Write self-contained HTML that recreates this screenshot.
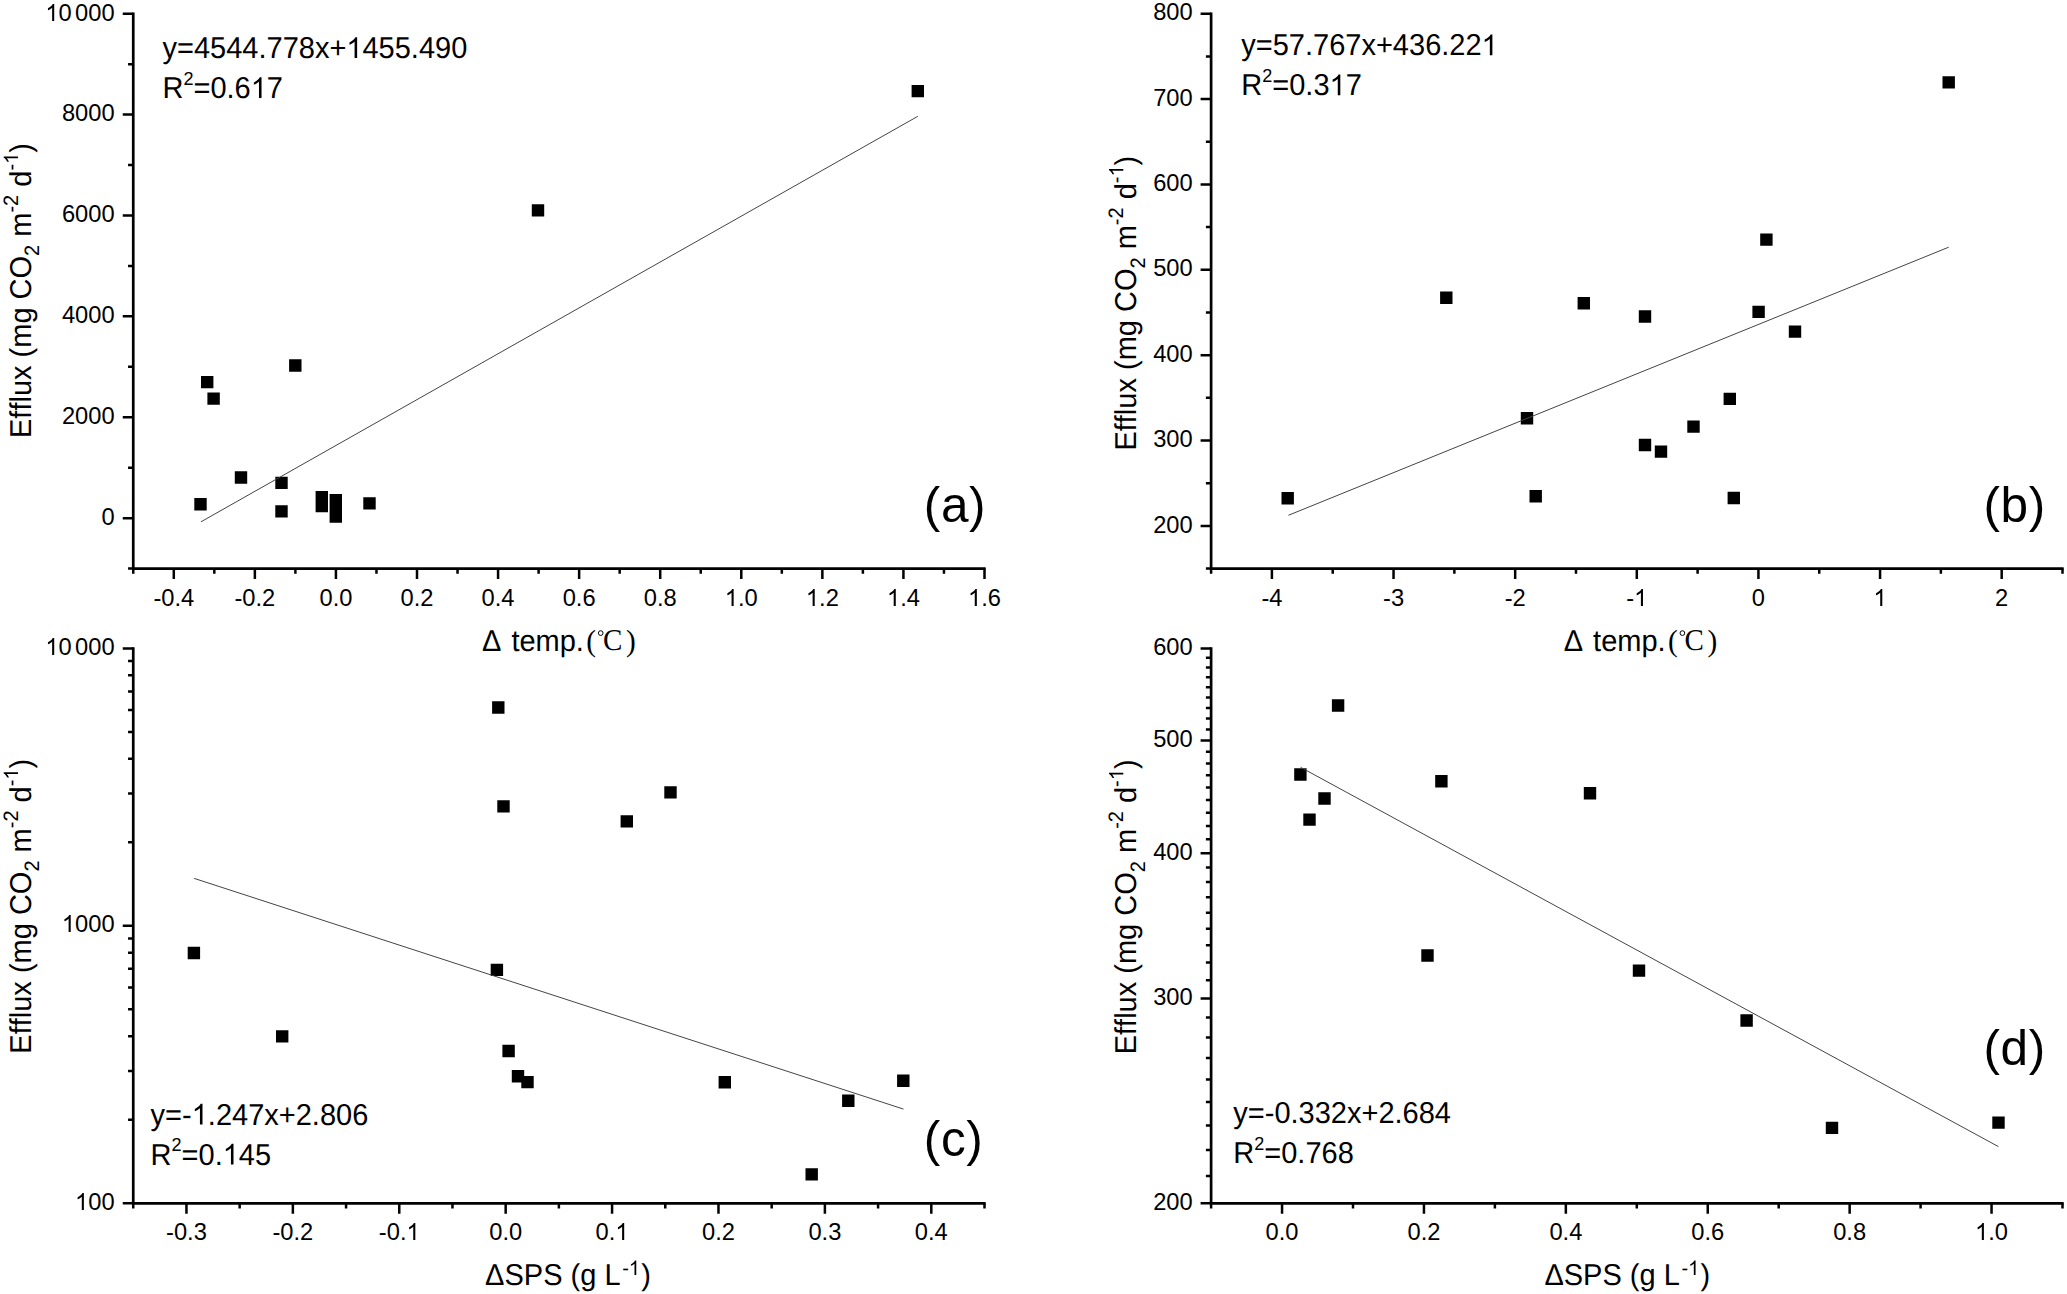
<!DOCTYPE html>
<html><head><meta charset="utf-8"><style>
html,body{margin:0;padding:0;background:#fff;overflow:hidden;}
svg{display:block;}
text{font-family:"Liberation Sans", sans-serif;fill:#000;font-kerning:none;}
.o1{fill:none;}
</style></head><body>
<svg width="2067" height="1294" viewBox="0 0 2067 1294">
<rect width="2067" height="1294" fill="#fff"/>
<path d="M133.25 12.55V568.6H985.65" fill="none" stroke="#000" stroke-width="2.7"/>
<path d="M173.79 568.6v10.5M254.86 568.6v10.5M335.93 568.6v10.5M417 568.6v10.5M498.07 568.6v10.5M579.14 568.6v10.5M660.21 568.6v10.5M741.29 568.6v10.5M822.36 568.6v10.5M903.43 568.6v10.5M984.5 568.6v10.5M133.25 568.6v5.2M214.32 568.6v5.2M295.39 568.6v5.2M376.46 568.6v5.2M457.54 568.6v5.2M538.61 568.6v5.2M619.68 568.6v5.2M700.75 568.6v5.2M781.82 568.6v5.2M862.89 568.6v5.2M943.96 568.6v5.2M133.25 518.15h-10.5M133.25 417.26h-10.5M133.25 316.37h-10.5M133.25 215.48h-10.5M133.25 114.59h-10.5M133.25 13.7h-10.5M133.25 568.6h-5.2M133.25 467.71h-5.2M133.25 366.82h-5.2M133.25 265.93h-5.2M133.25 165.04h-5.2M133.25 64.15h-5.2" fill="none" stroke="#000" stroke-width="2.5"/>
<g font-size="23.7"><text transform="translate(173.79 605.7)" text-anchor="middle">-0.4</text><text transform="translate(254.86 605.7)" text-anchor="middle">-0.2</text><text transform="translate(335.93 605.7)" text-anchor="middle">0.0</text><text transform="translate(417 605.7)" text-anchor="middle">0.2</text><text transform="translate(498.07 605.7)" text-anchor="middle">0.4</text><text transform="translate(579.14 605.7)" text-anchor="middle">0.6</text><text transform="translate(660.21 605.7)" text-anchor="middle">0.8</text><text transform="translate(741.29 605.7)" text-anchor="middle"><tspan class="o1">1</tspan>.0</text><text transform="translate(822.36 605.7)" text-anchor="middle"><tspan class="o1">1</tspan>.2</text><text transform="translate(903.43 605.7)" text-anchor="middle"><tspan class="o1">1</tspan>.4</text><text transform="translate(984.5 605.7)" text-anchor="middle"><tspan class="o1">1</tspan>.6</text><text transform="translate(114.6 524.75)" text-anchor="end">0</text><text transform="translate(114.6 423.86)" text-anchor="end">2000</text><text transform="translate(114.6 322.97)" text-anchor="end">4000</text><text transform="translate(114.6 222.08)" text-anchor="end">6000</text><text transform="translate(114.6 121.19)" text-anchor="end">8000</text><text transform="translate(114.6 21.3)" text-anchor="end"><tspan class="o1">1</tspan>0<tspan dx="3.3">000</tspan></text></g>
<path d="M1211.1 12.55V568.6H2063.65" fill="none" stroke="#000" stroke-width="2.7"/>
<path d="M1271.91 568.6v10.5M1393.54 568.6v10.5M1515.17 568.6v10.5M1636.8 568.6v10.5M1758.43 568.6v10.5M1880.06 568.6v10.5M2001.69 568.6v10.5M1211.1 568.6v5.2M1332.73 568.6v5.2M1454.36 568.6v5.2M1575.99 568.6v5.2M1697.61 568.6v5.2M1819.24 568.6v5.2M1940.87 568.6v5.2M2062.5 568.6v5.2M1211.1 525.92h-10.5M1211.1 440.55h-10.5M1211.1 355.18h-10.5M1211.1 269.81h-10.5M1211.1 184.44h-10.5M1211.1 99.07h-10.5M1211.1 13.7h-10.5M1211.1 568.6h-5.2M1211.1 483.23h-5.2M1211.1 397.86h-5.2M1211.1 312.49h-5.2M1211.1 227.12h-5.2M1211.1 141.75h-5.2M1211.1 56.38h-5.2" fill="none" stroke="#000" stroke-width="2.5"/>
<g font-size="23.7"><text transform="translate(1271.91 605.7)" text-anchor="middle">-4</text><text transform="translate(1393.54 605.7)" text-anchor="middle">-3</text><text transform="translate(1515.17 605.7)" text-anchor="middle">-2</text><text transform="translate(1636.8 605.7)" text-anchor="middle">-<tspan class="o1">1</tspan></text><text transform="translate(1758.43 605.7)" text-anchor="middle">0</text><text transform="translate(1880.06 605.7)" text-anchor="middle"><tspan class="o1">1</tspan></text><text transform="translate(2001.69 605.7)" text-anchor="middle">2</text><text transform="translate(1192.7 532.52)" text-anchor="end">200</text><text transform="translate(1192.7 447.15)" text-anchor="end">300</text><text transform="translate(1192.7 361.78)" text-anchor="end">400</text><text transform="translate(1192.7 276.41)" text-anchor="end">500</text><text transform="translate(1192.7 191.04)" text-anchor="end">600</text><text transform="translate(1192.7 105.67)" text-anchor="end">700</text><text transform="translate(1192.7 20.3)" text-anchor="end">800</text></g>
<path d="M133.25 647.25V1203.3H985.65" fill="none" stroke="#000" stroke-width="2.7"/>
<path d="M186.45 1203.3v10.5M292.86 1203.3v10.5M399.27 1203.3v10.5M505.67 1203.3v10.5M612.08 1203.3v10.5M718.48 1203.3v10.5M824.89 1203.3v10.5M931.3 1203.3v10.5M133.25 1203.3v5.2M239.66 1203.3v5.2M346.06 1203.3v5.2M452.47 1203.3v5.2M558.88 1203.3v5.2M665.28 1203.3v5.2M771.69 1203.3v5.2M878.09 1203.3v5.2M984.5 1203.3v5.2M133.25 1203.3h-10.5M133.25 925.85h-10.5M133.25 648.4h-10.5M133.25 1119.78h-5.2M133.25 1070.92h-5.2M133.25 1036.26h-5.2M133.25 1009.37h-5.2M133.25 987.4h-5.2M133.25 968.83h-5.2M133.25 952.74h-5.2M133.25 938.55h-5.2M133.25 842.33h-5.2M133.25 793.47h-5.2M133.25 758.81h-5.2M133.25 731.92h-5.2M133.25 709.95h-5.2M133.25 691.38h-5.2M133.25 675.29h-5.2M133.25 661.1h-5.2" fill="none" stroke="#000" stroke-width="2.5"/>
<g font-size="23.7"><text transform="translate(186.45 1240.4)" text-anchor="middle">-0.3</text><text transform="translate(292.86 1240.4)" text-anchor="middle">-0.2</text><text transform="translate(399.27 1240.4)" text-anchor="middle">-0.<tspan class="o1">1</tspan></text><text transform="translate(505.67 1240.4)" text-anchor="middle">0.0</text><text transform="translate(612.08 1240.4)" text-anchor="middle">0.<tspan class="o1">1</tspan></text><text transform="translate(718.48 1240.4)" text-anchor="middle">0.2</text><text transform="translate(824.89 1240.4)" text-anchor="middle">0.3</text><text transform="translate(931.3 1240.4)" text-anchor="middle">0.4</text><text transform="translate(114.6 1209.9)" text-anchor="end"><tspan class="o1">1</tspan>00</text><text transform="translate(114.6 932.45)" text-anchor="end"><tspan class="o1">1</tspan>000</text><text transform="translate(114.6 654.6)" text-anchor="end"><tspan class="o1">1</tspan>0<tspan dx="3.3">000</tspan></text></g>
<path d="M1211.1 647.25V1203.3H2063.65" fill="none" stroke="#000" stroke-width="2.7"/>
<path d="M1282.05 1203.3v10.5M1423.95 1203.3v10.5M1565.85 1203.3v10.5M1707.75 1203.3v10.5M1849.65 1203.3v10.5M1991.55 1203.3v10.5M1211.1 1203.3v5.2M1353 1203.3v5.2M1494.9 1203.3v5.2M1636.8 1203.3v5.2M1778.7 1203.3v5.2M1920.6 1203.3v5.2M2062.5 1203.3v5.2M1211.1 1203.3h-10.5M1211.1 998.5h-10.5M1211.1 853.2h-10.5M1211.1 740.49h-10.5M1211.1 648.4h-10.5M1211.1 1175.99h-5.2M1211.1 1150.08h-5.2M1211.1 1125.44h-5.2M1211.1 1101.94h-5.2M1211.1 1079.49h-5.2M1211.1 1057.99h-5.2M1211.1 1037.38h-5.2M1211.1 1017.57h-5.2M1211.1 980.13h-5.2M1211.1 962.41h-5.2M1211.1 945.29h-5.2M1211.1 928.72h-5.2M1211.1 912.69h-5.2M1211.1 897.15h-5.2M1211.1 882.07h-5.2M1211.1 867.43h-5.2M1211.1 839.36h-5.2M1211.1 825.89h-5.2M1211.1 812.77h-5.2M1211.1 799.98h-5.2M1211.1 787.51h-5.2M1211.1 775.34h-5.2M1211.1 763.45h-5.2M1211.1 751.84h-5.2M1211.1 729.39h-5.2M1211.1 718.53h-5.2M1211.1 707.89h-5.2M1211.1 697.48h-5.2M1211.1 687.27h-5.2M1211.1 677.27h-5.2M1211.1 667.46h-5.2M1211.1 657.84h-5.2" fill="none" stroke="#000" stroke-width="2.5"/>
<g font-size="23.7"><text transform="translate(1282.05 1240.4)" text-anchor="middle">0.0</text><text transform="translate(1423.95 1240.4)" text-anchor="middle">0.2</text><text transform="translate(1565.85 1240.4)" text-anchor="middle">0.4</text><text transform="translate(1707.75 1240.4)" text-anchor="middle">0.6</text><text transform="translate(1849.65 1240.4)" text-anchor="middle">0.8</text><text transform="translate(1991.55 1240.4)" text-anchor="middle"><tspan class="o1">1</tspan>.0</text><text transform="translate(1192.7 1209.9)" text-anchor="end">200</text><text transform="translate(1192.7 1005.1)" text-anchor="end">300</text><text transform="translate(1192.7 859.8)" text-anchor="end">400</text><text transform="translate(1192.7 747.09)" text-anchor="end">500</text><text transform="translate(1192.7 655)" text-anchor="end">600</text></g>
<path d="M289.1 359.3h12.4v12.4h-12.4zM201 375.9h12.4v12.4h-12.4zM207.4 392.4h12.4v12.4h-12.4zM234.8 471.3h12.4v12.4h-12.4zM275.3 476.7h12.4v12.4h-12.4zM194.3 498.1h12.4v12.4h-12.4zM275.3 505.2h12.4v12.4h-12.4zM315.6 491.1h12.4v12.4h-12.4zM315.6 499.8h12.4v12.4h-12.4zM329.6 493.9h12.4v12.4h-12.4zM329.6 502.1h12.4v12.4h-12.4zM329.6 510.3h12.4v12.4h-12.4zM363.3 497.2h12.4v12.4h-12.4zM911.6 84.9h12.4v12.4h-12.4zM531.8 204.2h12.4v12.4h-12.4z" fill="#000"/>
<path d="M1281.5 492.1h12.4v12.4h-12.4zM1440.1 291.6h12.4v12.4h-12.4zM1520.8 412h12.4v12.4h-12.4zM1529.5 490.1h12.4v12.4h-12.4zM1577.6 297.1h12.4v12.4h-12.4zM1638.8 310.3h12.4v12.4h-12.4zM1638.8 438.8h12.4v12.4h-12.4zM1654.8 445.4h12.4v12.4h-12.4zM1687.3 420.4h12.4v12.4h-12.4zM1723.6 392.7h12.4v12.4h-12.4zM1727.6 491.8h12.4v12.4h-12.4zM1752.4 305.7h12.4v12.4h-12.4zM1760.2 233.4h12.4v12.4h-12.4zM1788.8 325.4h12.4v12.4h-12.4zM1942.5 76.2h12.4v12.4h-12.4z" fill="#000"/>
<path d="M187.7 946.8h12.4v12.4h-12.4zM276 1030.2h12.4v12.4h-12.4zM490.7 963.7h12.4v12.4h-12.4zM492.1 701.3h12.4v12.4h-12.4zM497.3 800.2h12.4v12.4h-12.4zM502.4 1044.8h12.4v12.4h-12.4zM511.8 1070h12.4v12.4h-12.4zM521.3 1075.9h12.4v12.4h-12.4zM620.6 815.2h12.4v12.4h-12.4zM664.3 786.2h12.4v12.4h-12.4zM718.6 1076h12.4v12.4h-12.4zM805.5 1168.2h12.4v12.4h-12.4zM842.1 1094.6h12.4v12.4h-12.4zM897.1 1074.6h12.4v12.4h-12.4z" fill="#000"/>
<path d="M1294.2 768.3h12.4v12.4h-12.4zM1303.3 813.4h12.4v12.4h-12.4zM1318.3 792.3h12.4v12.4h-12.4zM1331.9 699.3h12.4v12.4h-12.4zM1421.3 949.3h12.4v12.4h-12.4zM1435.2 775.1h12.4v12.4h-12.4zM1583.8 787h12.4v12.4h-12.4zM1632.8 964.4h12.4v12.4h-12.4zM1740.4 1014.3h12.4v12.4h-12.4zM1825.8 1121.7h12.4v12.4h-12.4zM1992.3 1116.4h12.4v12.4h-12.4z" fill="#000"/>
<path d="M201.0 521.8L917.8 116.3M1288.4 515.3L1948.7 247.2M194.2 878.4L903.5 1109.1M1300.6 767.3L1998.4 1146.6" stroke="#444" stroke-width="1.0" fill="none"/>
<text transform="translate(162.5 58) scale(1 1.0406)" text-rendering="geometricPrecision" font-size="29">y=4544.778x+<tspan class="o1">1</tspan>455.490</text><text transform="translate(162.5 98) scale(1 1.0406)" text-rendering="geometricPrecision" font-size="29">R<tspan font-size="18" dy="-12.8">2</tspan><tspan dy="12.8">=0.6<tspan class="o1">1</tspan>7</tspan></text>
<text transform="translate(1241.3 55.2) scale(1 1.0406)" text-rendering="geometricPrecision" font-size="29">y=57.767x+436.22<tspan class="o1">1</tspan></text><text transform="translate(1241.3 95.2) scale(1 1.0406)" text-rendering="geometricPrecision" font-size="29">R<tspan font-size="18" dy="-12.8">2</tspan><tspan dy="12.8">=0.3<tspan class="o1">1</tspan>7</tspan></text>
<text transform="translate(150.6 1124.5) scale(1 1.0406)" text-rendering="geometricPrecision" font-size="29">y=-<tspan class="o1">1</tspan>.247x+2.806</text><text transform="translate(150.6 1164.5) scale(1 1.0406)" text-rendering="geometricPrecision" font-size="29">R<tspan font-size="18" dy="-12.8">2</tspan><tspan dy="12.8">=0.<tspan class="o1">1</tspan>45</tspan></text>
<text transform="translate(1233.3 1122.5) scale(1 1.0406)" text-rendering="geometricPrecision" font-size="29">y=-0.332x+2.684</text><text transform="translate(1233.3 1163.2) scale(1 1.0406)" text-rendering="geometricPrecision" font-size="29">R<tspan font-size="18" dy="-12.8">2</tspan><tspan dy="12.8">=0.768</tspan></text>
<g font-size="49.5" letter-spacing="0.6">
<text transform="translate(923.8 522)" >(a)</text>
<text transform="translate(1983.5 521.8)" >(b)</text>
<text transform="translate(923.8 1155.8)" >(c)</text>
<text transform="translate(1983.5 1065.3)" >(d)</text>
</g>
<text transform="translate(30.6 438) rotate(-90) scale(1 1.0406)" text-rendering="geometricPrecision" font-size="29">Efflux (mg CO<tspan font-size="20" dy="8.3">2</tspan><tspan dy="-8.3"> m</tspan><tspan font-size="20" dy="-12.1">-2</tspan><tspan dy="12.1"> d</tspan><tspan font-size="20" dy="-12.1">-<tspan class="o1">1</tspan></tspan><tspan dy="12.1">)</tspan></text>
<text transform="translate(1135.9 450.6) rotate(-90) scale(1 1.0406)" text-rendering="geometricPrecision" font-size="29">Efflux (mg CO<tspan font-size="20" dy="8.3">2</tspan><tspan dy="-8.3"> m</tspan><tspan font-size="20" dy="-12.1">-2</tspan><tspan dy="12.1"> d</tspan><tspan font-size="20" dy="-12.1">-<tspan class="o1">1</tspan></tspan><tspan dy="12.1">)</tspan></text>
<text transform="translate(30.6 1053.7) rotate(-90) scale(1 1.0406)" text-rendering="geometricPrecision" font-size="29">Efflux (mg CO<tspan font-size="20" dy="8.3">2</tspan><tspan dy="-8.3"> m</tspan><tspan font-size="20" dy="-12.1">-2</tspan><tspan dy="12.1"> d</tspan><tspan font-size="20" dy="-12.1">-<tspan class="o1">1</tspan></tspan><tspan dy="12.1">)</tspan></text>
<text transform="translate(1135.9 1054.3) rotate(-90) scale(1 1.0406)" text-rendering="geometricPrecision" font-size="29">Efflux (mg CO<tspan font-size="20" dy="8.3">2</tspan><tspan dy="-8.3"> m</tspan><tspan font-size="20" dy="-12.1">-2</tspan><tspan dy="12.1"> d</tspan><tspan font-size="20" dy="-12.1">-<tspan class="o1">1</tspan></tspan><tspan dy="12.1">)</tspan></text>
<text transform="translate(482.1 650.6) scale(1 1.0406)" text-rendering="geometricPrecision" font-size="29">Δ</text><text transform="translate(511.4 650.6) scale(1 1.0406)" text-rendering="geometricPrecision" font-size="29">temp.</text><text transform="translate(586.3 650.9) scale(1 1.0406)" text-rendering="geometricPrecision" font-size="29.3" style='font-family:"Liberation Serif", serif'>(</text><text transform="translate(625.9 650.9) scale(1 1.0406)" text-rendering="geometricPrecision" font-size="29.3" style='font-family:"Liberation Serif", serif'>)</text><text transform="translate(602.9 650.4) scale(1 1.0406)" text-rendering="geometricPrecision" font-size="29" style='font-family:"Liberation Serif", serif'>C</text><circle cx="600.7" cy="633.1" r="2.35" fill="none" stroke="#000" stroke-width="1"/>
<text transform="translate(1563.8 650.6) scale(1 1.0406)" text-rendering="geometricPrecision" font-size="29">Δ</text><text transform="translate(1593.1 650.6) scale(1 1.0406)" text-rendering="geometricPrecision" font-size="29">temp.</text><text transform="translate(1668 650.9) scale(1 1.0406)" text-rendering="geometricPrecision" font-size="29.3" style='font-family:"Liberation Serif", serif'>(</text><text transform="translate(1707.6 650.9) scale(1 1.0406)" text-rendering="geometricPrecision" font-size="29.3" style='font-family:"Liberation Serif", serif'>)</text><text transform="translate(1684.6 650.4) scale(1 1.0406)" text-rendering="geometricPrecision" font-size="29" style='font-family:"Liberation Serif", serif'>C</text><circle cx="1682.4" cy="633.1" r="2.35" fill="none" stroke="#000" stroke-width="1"/>
<text transform="translate(485.1 1285) scale(1 1.0406)" text-rendering="geometricPrecision" font-size="29">ΔSPS (g L<tspan font-size="20" dx="1.6" dy="-9.7">-<tspan class="o1">1</tspan></tspan><tspan dx="1.2" dy="9.7">)</tspan></text>
<text transform="translate(1544.4 1285) scale(1 1.0406)" text-rendering="geometricPrecision" font-size="29">ΔSPS (g L<tspan font-size="20" dx="1.6" dy="-9.7">-<tspan class="o1">1</tspan></tspan><tspan dx="1.2" dy="9.7">)</tspan></text>
<g fill="#000"><path transform="translate(724.81 606) scale(0.01157 -0.01160)" d="M763 0L583 0L583 1147C540 1106 483 1065 412 1023C342 981 278 950 221 929L221 1103C320 1149 406 1205 480 1270C553 1335 605 1400 636 1466L763 1466Z"/><path transform="translate(805.88 606) scale(0.01157 -0.01160)" d="M763 0L583 0L583 1147C540 1106 483 1065 412 1023C342 981 278 950 221 929L221 1103C320 1149 406 1205 480 1270C553 1335 605 1400 636 1466L763 1466Z"/><path transform="translate(886.95 606) scale(0.01157 -0.01160)" d="M763 0L583 0L583 1147C540 1106 483 1065 412 1023C342 981 278 950 221 929L221 1103C320 1149 406 1205 480 1270C553 1335 605 1400 636 1466L763 1466Z"/><path transform="translate(968.02 606) scale(0.01157 -0.01160)" d="M763 0L583 0L583 1147C540 1106 483 1065 412 1023C342 981 278 950 221 929L221 1103C320 1149 406 1205 480 1270C553 1335 605 1400 636 1466L763 1466Z"/><path transform="translate(45.39 21) scale(0.01157 -0.01160)" d="M763 0L583 0L583 1147C540 1106 483 1065 412 1023C342 981 278 950 221 929L221 1103C320 1149 406 1205 480 1270C553 1335 605 1400 636 1466L763 1466Z"/><path transform="translate(1634.15 606) scale(0.01157 -0.01160)" d="M763 0L583 0L583 1147C540 1106 483 1065 412 1023C342 981 278 950 221 929L221 1103C320 1149 406 1205 480 1270C553 1335 605 1400 636 1466L763 1466Z"/><path transform="translate(1873.47 606) scale(0.01157 -0.01160)" d="M763 0L583 0L583 1147C540 1106 483 1065 412 1023C342 981 278 950 221 929L221 1103C320 1149 406 1205 480 1270C553 1335 605 1400 636 1466L763 1466Z"/><path transform="translate(406.5 1240) scale(0.01157 -0.01160)" d="M763 0L583 0L583 1147C540 1106 483 1065 412 1023C342 981 278 950 221 929L221 1103C320 1149 406 1205 480 1270C553 1335 605 1400 636 1466L763 1466Z"/><path transform="translate(615.37 1240) scale(0.01157 -0.01160)" d="M763 0L583 0L583 1147C540 1106 483 1065 412 1023C342 981 278 950 221 929L221 1103C320 1149 406 1205 480 1270C553 1335 605 1400 636 1466L763 1466Z"/><path transform="translate(75.05 1210) scale(0.01157 -0.01160)" d="M763 0L583 0L583 1147C540 1106 483 1065 412 1023C342 981 278 950 221 929L221 1103C320 1149 406 1205 480 1270C553 1335 605 1400 636 1466L763 1466Z"/><path transform="translate(61.88 932) scale(0.01157 -0.01160)" d="M763 0L583 0L583 1147C540 1106 483 1065 412 1023C342 981 278 950 221 929L221 1103C320 1149 406 1205 480 1270C553 1335 605 1400 636 1466L763 1466Z"/><path transform="translate(45.39 655) scale(0.01157 -0.01160)" d="M763 0L583 0L583 1147C540 1106 483 1065 412 1023C342 981 278 950 221 929L221 1103C320 1149 406 1205 480 1270C553 1335 605 1400 636 1466L763 1466Z"/><path transform="translate(1975.07 1240) scale(0.01157 -0.01160)" d="M763 0L583 0L583 1147C540 1106 483 1065 412 1023C342 981 278 950 221 929L221 1103C320 1149 406 1205 480 1270C553 1335 605 1400 636 1466L763 1466Z"/><path transform="translate(162.5 58) scale(1 1.0406) translate(183.83 0) scale(0.01416 -0.01361)" d="M763 0L583 0L583 1147C540 1106 483 1065 412 1023C342 981 278 950 221 929L221 1103C320 1149 406 1205 480 1270C553 1335 605 1400 636 1466L763 1466Z"/><path transform="translate(162.5 98) scale(1 1.0406) translate(88.22 0) scale(0.01416 -0.01361)" d="M763 0L583 0L583 1147C540 1106 483 1065 412 1023C342 981 278 950 221 929L221 1103C320 1149 406 1205 480 1270C553 1335 605 1400 636 1466L763 1466Z"/><path transform="translate(1241.3 55.2) scale(1 1.0406) translate(240.28 0) scale(0.01416 -0.01361)" d="M763 0L583 0L583 1147C540 1106 483 1065 412 1023C342 981 278 950 221 929L221 1103C320 1149 406 1205 480 1270C553 1335 605 1400 636 1466L763 1466Z"/><path transform="translate(1241.3 95.2) scale(1 1.0406) translate(88.22 0) scale(0.01416 -0.01361)" d="M763 0L583 0L583 1147C540 1106 483 1065 412 1023C342 981 278 950 221 929L221 1103C320 1149 406 1205 480 1270C553 1335 605 1400 636 1466L763 1466Z"/><path transform="translate(150.6 1124.5) scale(1 1.0406) translate(41.09 0) scale(0.01416 -0.01361)" d="M763 0L583 0L583 1147C540 1106 483 1065 412 1023C342 981 278 950 221 929L221 1103C320 1149 406 1205 480 1270C553 1335 605 1400 636 1466L763 1466Z"/><path transform="translate(150.6 1164.5) scale(1 1.0406) translate(72.09 0) scale(0.01416 -0.01361)" d="M763 0L583 0L583 1147C540 1106 483 1065 412 1023C342 981 278 950 221 929L221 1103C320 1149 406 1205 480 1270C553 1335 605 1400 636 1466L763 1466Z"/><path transform="translate(30.6 438) rotate(-90) scale(1 1.0406) translate(274.09 -12.1) scale(0.00977 -0.00939)" d="M763 0L583 0L583 1147C540 1106 483 1065 412 1023C342 981 278 950 221 929L221 1103C320 1149 406 1205 480 1270C553 1335 605 1400 636 1466L763 1466Z"/><path transform="translate(1135.9 450.6) rotate(-90) scale(1 1.0406) translate(274.09 -12.1) scale(0.00977 -0.00939)" d="M763 0L583 0L583 1147C540 1106 483 1065 412 1023C342 981 278 950 221 929L221 1103C320 1149 406 1205 480 1270C553 1335 605 1400 636 1466L763 1466Z"/><path transform="translate(30.6 1053.7) rotate(-90) scale(1 1.0406) translate(274.09 -12.1) scale(0.00977 -0.00939)" d="M763 0L583 0L583 1147C540 1106 483 1065 412 1023C342 981 278 950 221 929L221 1103C320 1149 406 1205 480 1270C553 1335 605 1400 636 1466L763 1466Z"/><path transform="translate(1135.9 1054.3) rotate(-90) scale(1 1.0406) translate(274.09 -12.1) scale(0.00977 -0.00939)" d="M763 0L583 0L583 1147C540 1106 483 1065 412 1023C342 981 278 950 221 929L221 1103C320 1149 406 1205 480 1270C553 1335 605 1400 636 1466L763 1466Z"/><path transform="translate(485.1 1285) scale(1 1.0406) translate(143.71 -9.7) scale(0.00977 -0.00939)" d="M763 0L583 0L583 1147C540 1106 483 1065 412 1023C342 981 278 950 221 929L221 1103C320 1149 406 1205 480 1270C553 1335 605 1400 636 1466L763 1466Z"/><path transform="translate(1544.4 1285) scale(1 1.0406) translate(143.71 -9.7) scale(0.00977 -0.00939)" d="M763 0L583 0L583 1147C540 1106 483 1065 412 1023C342 981 278 950 221 929L221 1103C320 1149 406 1205 480 1270C553 1335 605 1400 636 1466L763 1466Z"/></g>
</svg>
</body></html>
